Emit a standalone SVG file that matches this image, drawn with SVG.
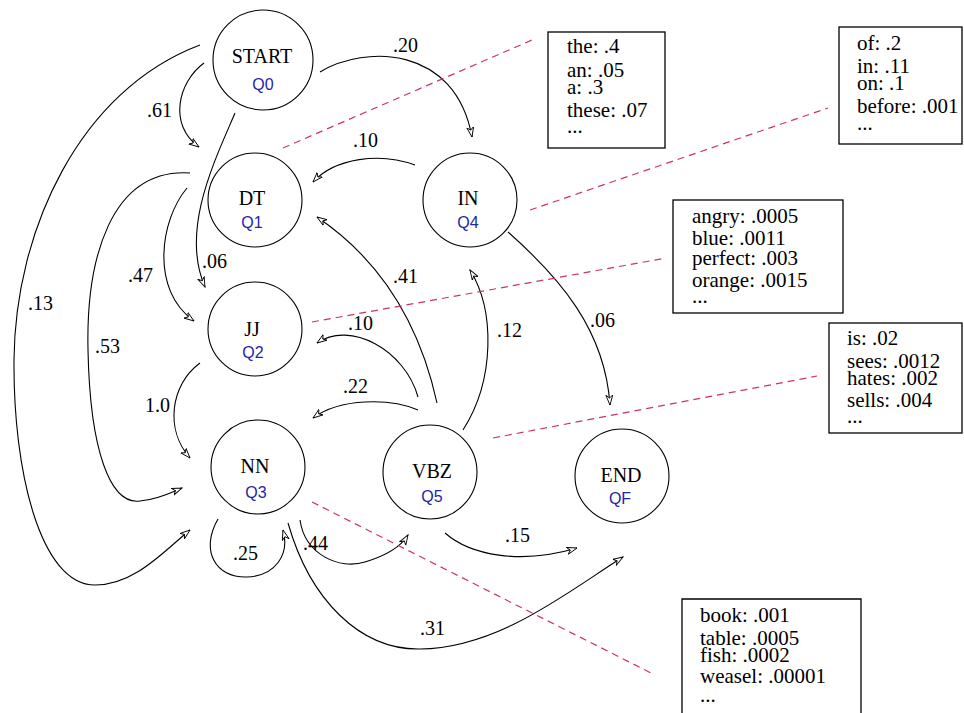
<svg xmlns="http://www.w3.org/2000/svg" width="964" height="713" viewBox="0 0 964 713">
<defs>
<marker id="arr" markerWidth="12" markerHeight="10" refX="10" refY="4" orient="auto" markerUnits="userSpaceOnUse">
<path d="M0,0.5 L10,4 L0,7.5 L3,4 Z" fill="#fff" stroke="#000" stroke-width="0.9"/>
</marker>
<style>
.st{fill:none;stroke:#000;stroke-width:1.1}
.ed{fill:none;stroke:#000;stroke-width:1.1;marker-end:url(#arr)}
.dl{fill:none;stroke:#cc3366;stroke-width:1.2;stroke-dasharray:7 5}
.nm{font-family:"Liberation Serif","Times New Roman",serif;font-size:20px;fill:#000;text-anchor:middle}
.q{font-family:"Liberation Sans",Arial,sans-serif;font-size:16px;fill:#2424a8;text-anchor:middle}
.lb{font-family:"Liberation Serif","Times New Roman",serif;font-size:20px;fill:#000}
.bx{fill:#fff;stroke:#000;stroke-width:1.3}
.bt{font-family:"Liberation Serif","Times New Roman",serif;font-size:21px;fill:#000}
</style>
</defs>
<rect width="964" height="713" fill="#fff"/>
<g id="connectors">
<path class="ed" d="M204,63 C 178,82 168,125 199,147"/>
<path class="ed" d="M320,72 C 365,45 455,45 472,137"/>
<path class="ed" d="M235,113 C 215,160 180,230 205,287"/>
<path class="ed" d="M200,45 C 80,90 15,230 14,360 C 13,470 40,585 95,585 C 135,585 165,550 190,530"/>
<path class="ed" d="M190,173 C 110,168 86,260 88,350 C 90,450 110,505 140,501 C 160,499 172,492 182,488"/>
<path class="ed" d="M187,188 C 160,220 150,290 194,321"/>
<path class="ed" d="M415,165 C 380,152 335,158 313,182"/>
<path class="ed" d="M437,403 Q 410,280 317,217"/>
<path class="ed" d="M463,430 C 495,380 495,310 470,270"/>
<path class="ed" d="M418,397 C 405,350 350,320 317,343"/>
<path class="ed" d="M418,410 C 390,398 340,398 313,418"/>
<path class="ed" d="M200,363 C 170,385 165,430 190,458"/>
<path class="ed" d="M218,519 C 200,550 215,578 247,577 C 275,576 290,555 283,530"/>
<path class="ed" d="M300,520 C 305,555 340,570 365,562 C 385,556 400,548 408,535"/>
<path class="ed" d="M288,523 C 310,600 360,650 420,649 C 500,648 570,590 623,557"/>
<path class="ed" d="M445,533 C 470,555 520,565 577,548"/>
<path class="ed" d="M508,232 C 560,278 605,330 610,405"/>
<text class="lb" x="147" y="117">.61</text>
<text class="lb" x="393" y="52">.20</text>
<text class="lb" x="202" y="268">.06</text>
<text class="lb" x="28" y="310">.13</text>
<text class="lb" x="95" y="353">.53</text>
<text class="lb" x="128" y="282">.47</text>
<text class="lb" x="353" y="147">.10</text>
<text class="lb" x="393" y="283">.41</text>
<text class="lb" x="497" y="337">.12</text>
<text class="lb" x="348" y="330">.10</text>
<text class="lb" x="343" y="393">.22</text>
<text class="lb" x="145" y="412">1.0</text>
<text class="lb" x="233" y="560">.25</text>
<text class="lb" x="303" y="550">.44</text>
<text class="lb" x="420" y="635">.31</text>
<text class="lb" x="505" y="542">.15</text>
<text class="lb" x="590" y="327">.06</text>
</g>
<g id="emission-links">
<line class="dl" x1="283" y1="148" x2="532" y2="40"/>
<line class="dl" x1="530" y1="210" x2="828" y2="108"/>
<line class="dl" x1="312" y1="322" x2="666" y2="258"/>
<line class="dl" x1="493" y1="438" x2="817" y2="376"/>
<line class="dl" x1="312" y1="502" x2="655" y2="675"/>
</g>
<g id="START"><circle class="st" cx="263" cy="60" r="50"/><text class="nm" x="262" y="63">START</text><text class="q" x="263" y="90">Q0</text></g>
<g id="DT"><circle class="st" cx="255" cy="200" r="47"/><text class="nm" x="252" y="205">DT</text><text class="q" x="252" y="228">Q1</text></g>
<g id="IN"><circle class="st" cx="470" cy="200" r="47"/><text class="nm" x="468" y="205">IN</text><text class="q" x="468" y="228">Q4</text></g>
<g id="JJ"><circle class="st" cx="255" cy="329" r="47"/><text class="nm" x="252" y="336">JJ</text><text class="q" x="253" y="358">Q2</text></g>
<g id="NN"><circle class="st" cx="258" cy="467" r="47"/><text class="nm" x="255" y="473">NN</text><text class="q" x="256" y="498">Q3</text></g>
<g id="VBZ"><circle class="st" cx="430" cy="472" r="47"/><text class="nm" x="432" y="478">VBZ</text><text class="q" x="432" y="502">Q5</text></g>
<g id="END"><circle class="st" cx="622" cy="476" r="47"/><text class="nm" x="621" y="482">END</text><text class="q" x="620" y="504">QF</text></g>
<g id="box-DT">
<rect class="bx" x="548" y="32" width="117" height="116"/>
<text class="bt" x="567" y="53">the: .4</text>
<text class="bt" x="567" y="77">an: .05</text>
<text class="bt" x="567" y="94">a: .3</text>
<text class="bt" x="567" y="117">these: .07</text>
<text class="bt" x="567" y="133">...</text>
</g>
<g id="box-IN">
<rect class="bx" x="839" y="27" width="123" height="117"/>
<text class="bt" x="857" y="50">of: .2</text>
<text class="bt" x="857" y="73">in: .11</text>
<text class="bt" x="857" y="90">on: .1</text>
<text class="bt" x="857" y="113">before: .001</text>
<text class="bt" x="857" y="130">...</text>
</g>
<g id="box-JJ">
<rect class="bx" x="673" y="200" width="170" height="113"/>
<text class="bt" x="692" y="223">angry: .0005</text>
<text class="bt" x="692" y="245">blue: .0011</text>
<text class="bt" x="692" y="265">perfect: .003</text>
<text class="bt" x="692" y="287">orange: .0015</text>
<text class="bt" x="692" y="303">...</text>
</g>
<g id="box-VBZ">
<rect class="bx" x="829" y="323" width="133" height="110"/>
<text class="bt" x="847" y="345">is: .02</text>
<text class="bt" x="847" y="368">sees: .0012</text>
<text class="bt" x="847" y="385">hates: .002</text>
<text class="bt" x="847" y="407">sells: .004</text>
<text class="bt" x="847" y="423">...</text>
</g>
<g id="box-NN">
<path class="bx" d="M682,713 V599 H861 V713"/>
<text class="bt" x="700" y="622">book: .001</text>
<text class="bt" x="700" y="645">table: .0005</text>
<text class="bt" x="700" y="662">fish: .0002</text>
<text class="bt" x="700" y="683">weasel: .00001</text>
<text class="bt" x="700" y="702">...</text>
</g>
</svg>
